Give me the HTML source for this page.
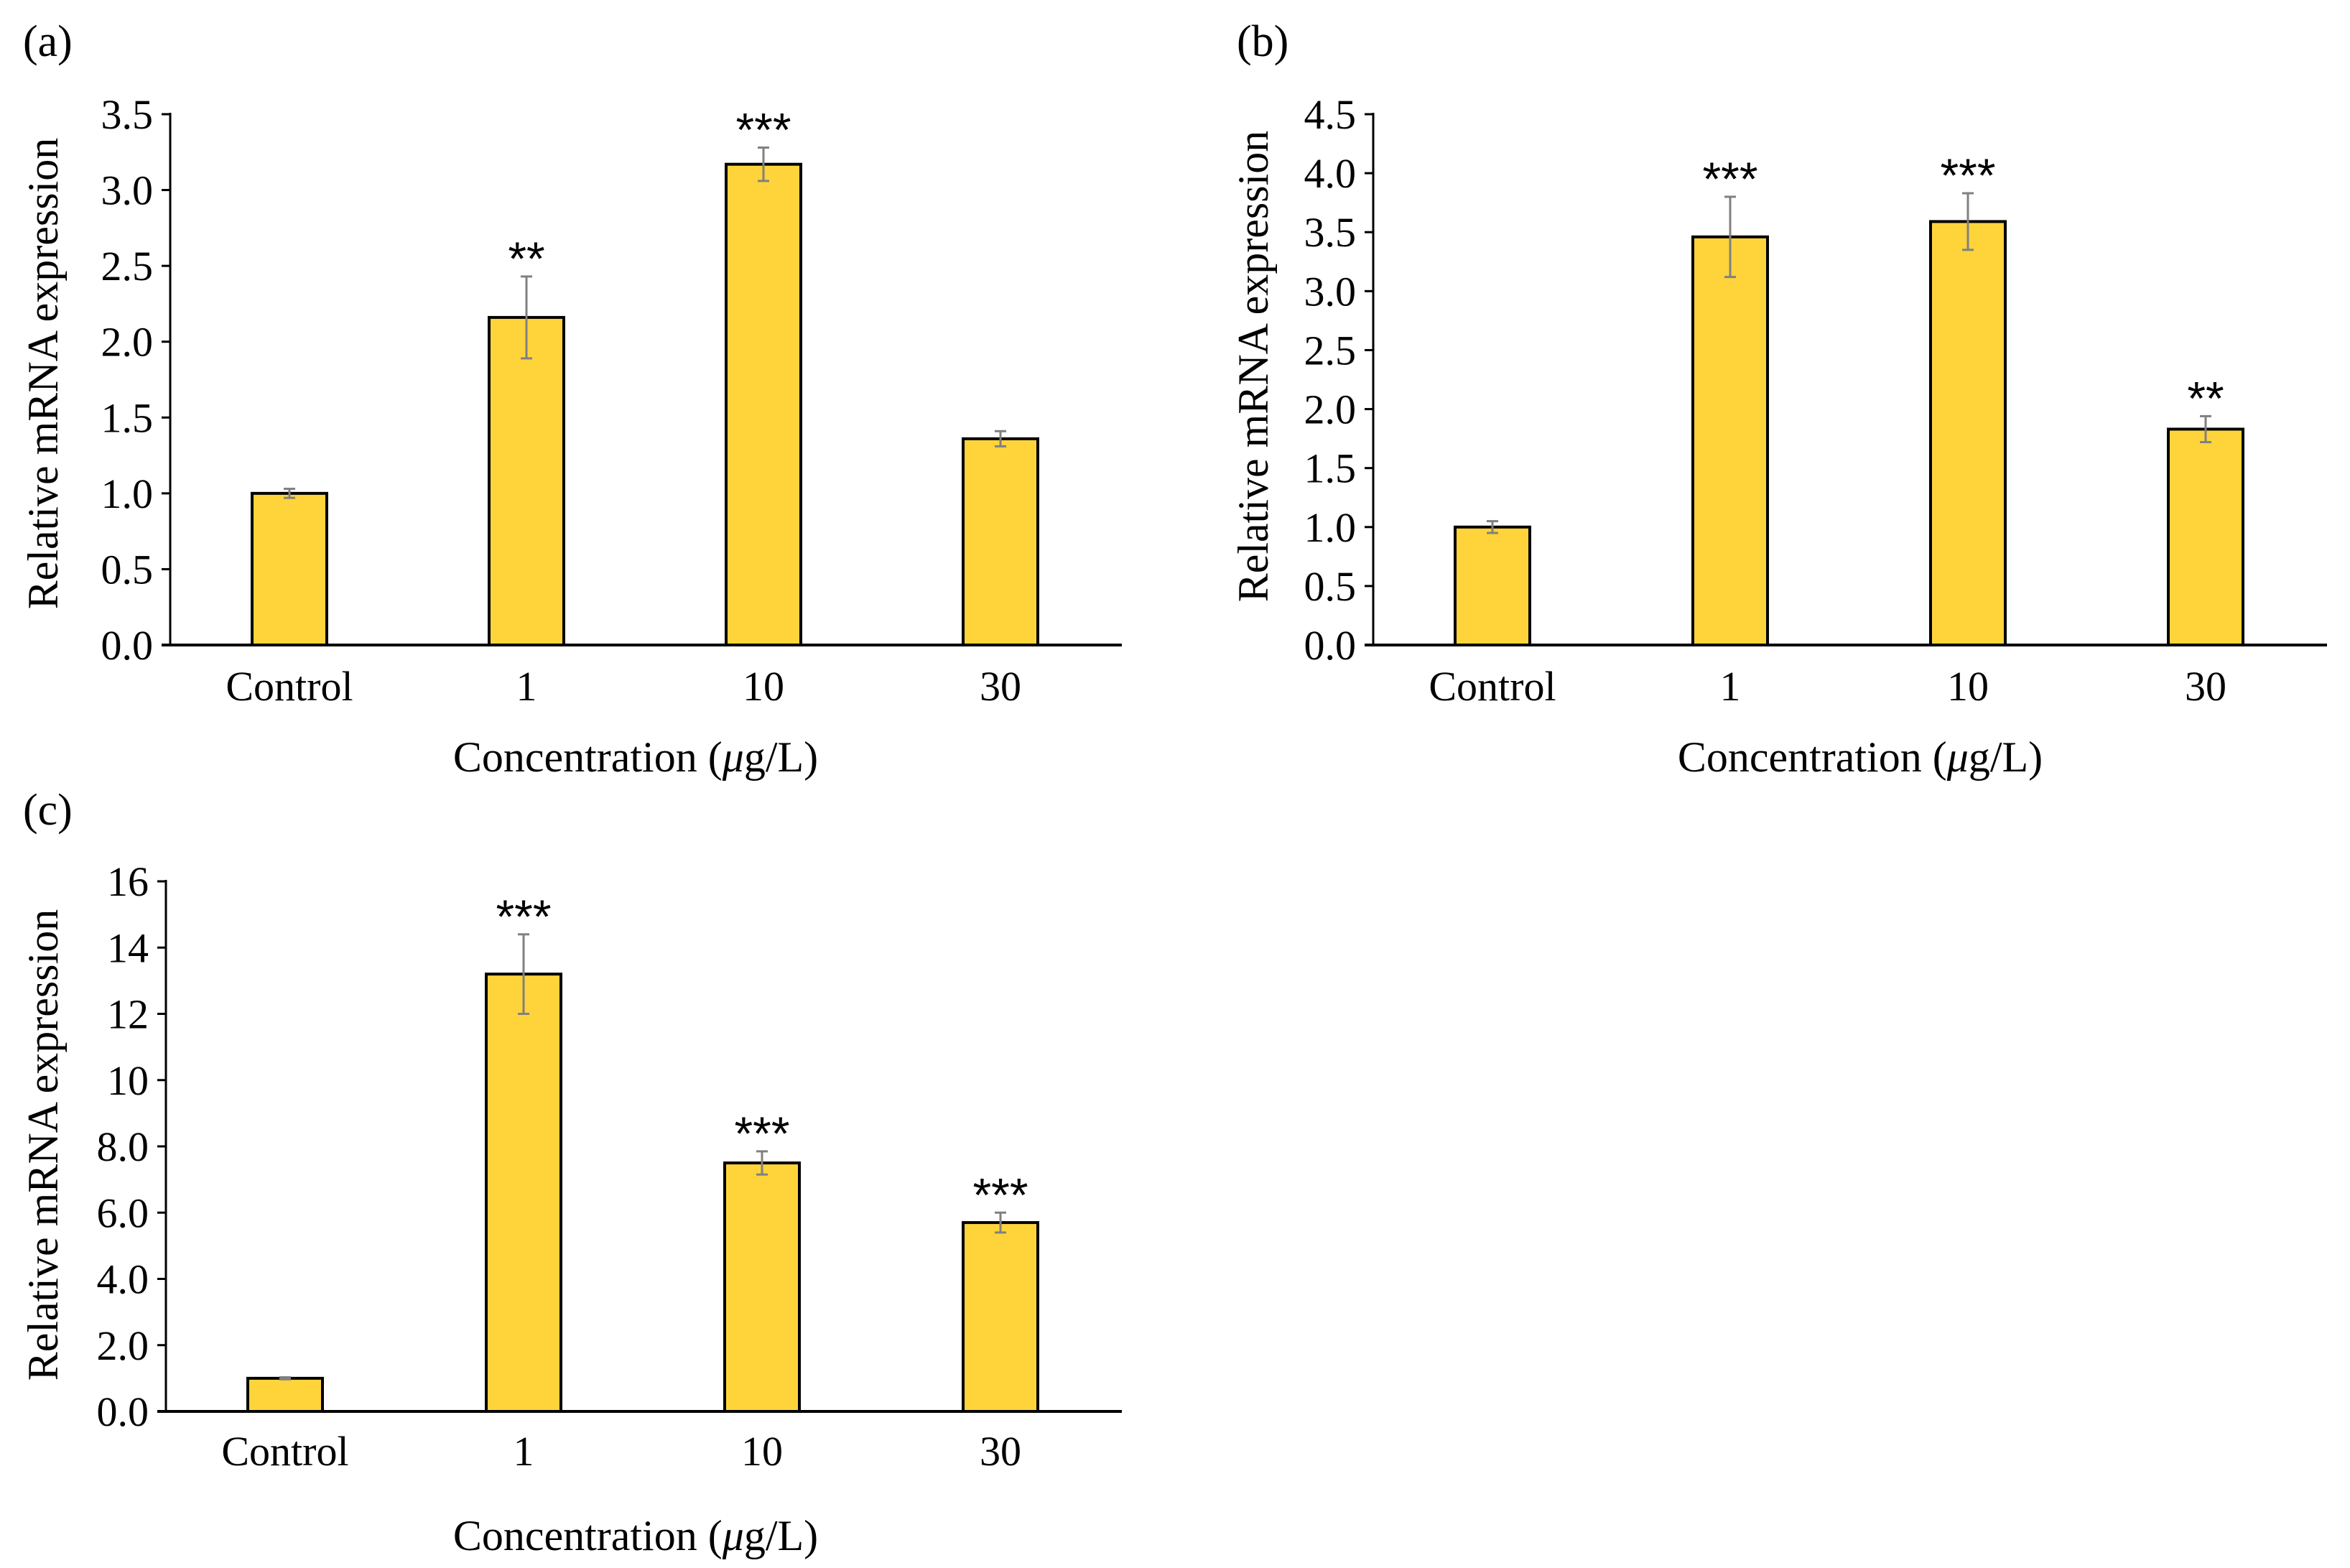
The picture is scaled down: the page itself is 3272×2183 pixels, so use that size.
<!DOCTYPE html>
<html><head><meta charset="utf-8"><style>
html,body{margin:0;padding:0;background:#fff;}
svg{display:block;}
text{font-family:"Liberation Serif",serif;fill:#000;}
.star{font-family:"Liberation Sans",sans-serif;}
</style></head><body>
<svg id="fig" width="3272" height="2183" viewBox="0 0 3272 2183" xmlns="http://www.w3.org/2000/svg"></svg>
<script>
const categories = ["Control","1","10","30"];
const valuesA = [1.0, 2.16, 3.17, 1.36];
const errorsA = [0.03, 0.27, 0.11, 0.05];
const starsA = ["", "**", "***", ""];
const ticksA = [0,0.5,1.0,1.5,2.0,2.5,3.0,3.5];
const tickLabelsA = ["0.0","0.5","1.0","1.5","2.0","2.5","3.0","3.5"];
const valuesB = [1.0, 3.46, 3.59, 1.83];
const errorsB = [0.05, 0.34, 0.24, 0.11];
const starsB = ["", "***", "***", "**"];
const ticksB = [0,0.5,1.0,1.5,2.0,2.5,3.0,3.5,4.0,4.5];
const tickLabelsB = ["0.0","0.5","1.0","1.5","2.0","2.5","3.0","3.5","4.0","4.5"];
const valuesC = [1.0, 13.2, 7.5, 5.7];
const errorsC = [0.03, 1.2, 0.35, 0.3];
const starsC = ["", "***", "***", "***"];
const ticksC = [0,2,4,6,8,10,12,14,16];
const tickLabelsC = ["0.0","2.0","4.0","6.0","8.0","10","12","14","16"];

const NS="http://www.w3.org/2000/svg";
const svg=document.getElementById('fig');
function mk(tag,attrs,parent){const e=document.createElementNS(NS,tag);for(const k in attrs)e.setAttribute(k,attrs[k]);(parent||svg).appendChild(e);return e;}

function panel(id,cfg,vals,errs,stars,ticks,tickLabels){
  const g=mk('g',{});
  
  
  const ymax=ticks[ticks.length-1];
  const y=v=>cfg.y0-(v/ymax)*(cfg.y0-cfg.yTop);
  const x=i=>cfg.c0+i*cfg.step;
  const lab=mk('text',{x:cfg.labX,y:cfg.labY,'font-size':62},g);lab.textContent='('+id+')';
  
  
  ticks.forEach((t,i)=>{
    const tk=mk('line',{x1:cfg.ax-12,x2:cfg.ax,y1:y(t),y2:y(t),stroke:'#000','stroke-width':3},g);
    
    
    const tl=mk('text',{x:cfg.ax-24,y:y(t)+20,'font-size':58,'text-anchor':'end'},g);tl.textContent=tickLabels[i];
    
    
  });
  vals.forEach((v,i)=>{
    const bw=104;
    const b=mk('rect',{x:x(i)-bw/2,y:y(v),width:bw,height:cfg.y0-y(v),fill:'#FFD43B',stroke:'#000','stroke-width':4},g);
    
    
    const e=errs[i];
    const eg=mk('g',{stroke:'#808080','stroke-width':3},g);
    
    
    mk('line',{x1:x(i),x2:x(i),y1:y(v+e),y2:y(v-e)},eg);
    mk('line',{x1:x(i)-8,x2:x(i)+8,y1:y(v+e),y2:y(v+e)},eg);
    mk('line',{x1:x(i)-8,x2:x(i)+8,y1:y(v-e),y2:y(v-e)},eg);
    if(stars[i]){
      const s=mk('text',{x:x(i),y:y(v+e)-2,'font-size':66,'text-anchor':'middle','class':'star'},g);s.textContent=stars[i];
      
      
    }
    const cl=mk('text',{x:x(i),y:cfg.catY,'font-size':58,'text-anchor':'middle'},g);cl.textContent=categories[i];
    
    
  });
  const ya=mk('line',{x1:cfg.ax,x2:cfg.ax,y1:cfg.yTop-2,y2:cfg.y0,stroke:'#000','stroke-width':3},g);
  
  
  const xa=mk('line',{x1:cfg.ax-12,x2:cfg.axEnd,y1:cfg.y0,y2:cfg.y0,stroke:'#000','stroke-width':4},g);
  
  
  const xt=mk('text',{x:cfg.xtX,y:cfg.xtY,'font-size':60,'text-anchor':'middle'},g);
  xt.innerHTML='Concentration (<tspan font-style="italic">μ</tspan>g/L)';
  
  
  const yt=mk('text',{x:0,y:0,'font-size':60,'text-anchor':'middle',transform:`translate(${cfg.ytX},${cfg.ytY}) rotate(-90)`},g);
  yt.textContent='Relative mRNA expression';
  
  
}
panel('a',{ax:237,axEnd:1562,y0:898,yTop:159,c0:403,step:330,labX:32,labY:78,catY:975,xtX:885,xtY:1074,ytX:80,ytY:520},valuesA,errorsA,starsA,ticksA,tickLabelsA);
panel('b',{ax:1912,axEnd:3240,y0:898,yTop:159,c0:2078,step:331,labX:1722,labY:78,catY:975,xtX:2590,xtY:1074,ytX:1765,ytY:510},valuesB,errorsB,starsB,ticksB,tickLabelsB);
panel('c',{ax:231,axEnd:1562,y0:1965,yTop:1227,c0:397,step:332,labX:32,labY:1148,catY:2040,xtX:885,xtY:2158,ytX:80,ytY:1594},valuesC,errorsC,starsC,ticksC,tickLabelsC);
</script>
</body></html>
